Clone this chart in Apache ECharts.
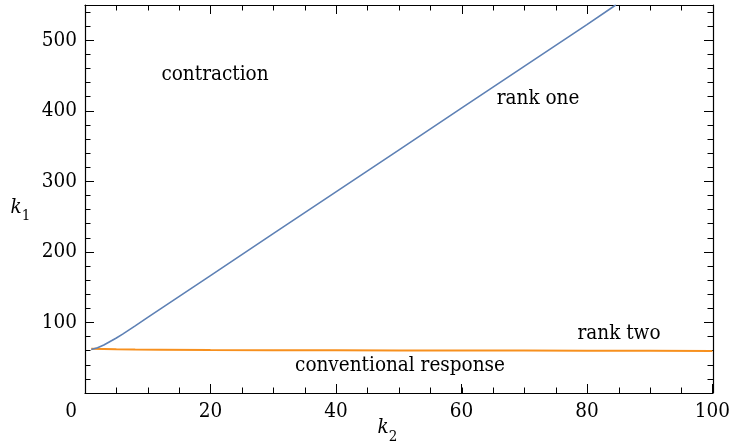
<!DOCTYPE html>
<html><head><meta charset="utf-8">
<script src="https://cdn.jsdelivr.net/npm/echarts@6/dist/echarts.min.js"></script>
<style>html,body{margin:0;padding:0;background:#fff}#c{width:733px;height:448px}</style>
</head><body><div id="c"></div>
<script>
// k2 (x) / k1 (y) boundary curves
const rankOneK2 = [1, 2, 3, 4, 5, 6, 8, 10, 20, 30, 40, 50, 60, 70, 80, 84.6];
const rankOneK1 = [61.6, 64, 68, 73, 78, 83.5, 95.2, 107.2, 166.5, 225.8, 285.1, 344.4, 403.7, 463, 522.2, 550];
const rankTwoK2 = [1, 3, 5, 8, 12, 20, 30, 40, 50, 60, 70, 80, 90, 100];
const rankTwoK1 = [62.8, 62.4, 62, 61.7, 61.4, 61, 60.7, 60.5, 60.3, 60.2, 60.1, 60, 59.9, 59.7];
const xTickLabels = [0, 20, 40, 60, 80, 100];
const yTickLabels = [100, 200, 300, 400, 500];
const regionLabels = ['contraction', 'rank one', 'rank two', 'conventional response'];

const FONT = '"DejaVu Serif Condensed", "DejaVu Serif"';
const FS = 20.5;
const chart = echarts.init(document.getElementById('c'));
const g = {left: 85, right: 20, top: 5, bottom: 55};
const lineStyle = {color: '#000', width: 1.2};

function xAx(gi, pos, interval, len, showLabel, showLine) {
  return {
    gridIndex: gi, type: 'value', position: pos, min: 0, max: 100, interval: interval,
    axisLine: {show: showLine, onZero: false, lineStyle: lineStyle},
    axisTick: {show: true, inside: true, length: len, lineStyle: {color: '#000', width: 1}},
    axisLabel: showLabel ? {
      show: true, margin: 8, color: '#000', fontFamily: FONT, fontSize: FS,
      formatter: v => xTickLabels.includes(v) ? (v === 0 ? '{z|0}' : String(v)) : '',
      rich: {z: {fontFamily: FONT, fontSize: FS, color: '#000', padding: [0, 28, 0, 0]}}
    } : {show: false},
    splitLine: {show: false}
  };
}
function yAx(gi, pos, interval, len, showLabel, showLine) {
  return {
    gridIndex: gi, type: 'value', position: pos, min: 0, max: 550, interval: interval,
    axisLine: {show: showLine, onZero: false, lineStyle: lineStyle},
    axisTick: {show: true, inside: true, length: len, lineStyle: {color: '#000', width: 1}},
    axisLabel: showLabel ? {
      show: true, margin: 8, color: '#000', fontFamily: FONT, fontSize: FS,
      showMinLabel: false, showMaxLabel: false,
      formatter: v => yTickLabels.includes(v) ? String(v) : ''
    } : {show: false},
    splitLine: {show: false}
  };
}
function txt(x, y, s, font) {
  return {type: 'text', x: x, y: y, style: {text: s, font: font, fill: '#000', align: 'center', verticalAlign: 'middle'}};
}

const option = {
  animation: false,
  backgroundColor: '#fff',
  grid: [Object.assign({}, g), Object.assign({}, g), Object.assign({}, g), Object.assign({}, g)],
  xAxis: [
    xAx(0, 'bottom', 20, 9, true, true),
    xAx(1, 'bottom', 5, 5.5, false, false),
    xAx(2, 'top', 20, 9, false, true),
    xAx(3, 'top', 5, 5.5, false, false)
  ],
  yAxis: [
    yAx(0, 'left', 100, 9, true, true),
    yAx(1, 'left', 20, 5.5, false, false),
    yAx(2, 'right', 100, 9, false, true),
    yAx(3, 'right', 20, 5.5, false, false)
  ],
  series: [
    {type: 'line', xAxisIndex: 0, yAxisIndex: 0, showSymbol: false, smooth: false,
     lineStyle: {color: '#5e81b5', width: 1.6}, z: 3,
     data: rankOneK2.map((x, i) => [x, rankOneK1[i]])},
    {type: 'line', xAxisIndex: 0, yAxisIndex: 0, showSymbol: false, smooth: false,
     lineStyle: {color: '#f7901e', width: 2}, z: 2,
     data: rankTwoK2.map((x, i) => [x, rankTwoK1[i]])}
  ],
  graphic: [
    txt(215, 75, regionLabels[0], FS + 'px ' + FONT),
    txt(538, 99, regionLabels[1], FS + 'px ' + FONT),
    txt(619, 334, regionLabels[2], FS + 'px ' + FONT),
    txt(400, 366, regionLabels[3], FS + 'px ' + FONT),
    txt(16, 208, 'k', 'italic ' + FS + 'px ' + FONT),
    txt(26, 216, '1', '15px ' + FONT),
    txt(383, 428, 'k', 'italic ' + FS + 'px ' + FONT),
    txt(393, 437, '2', '15px ' + FONT)
  ]
};
chart.setOption(option);
</script></body></html>
